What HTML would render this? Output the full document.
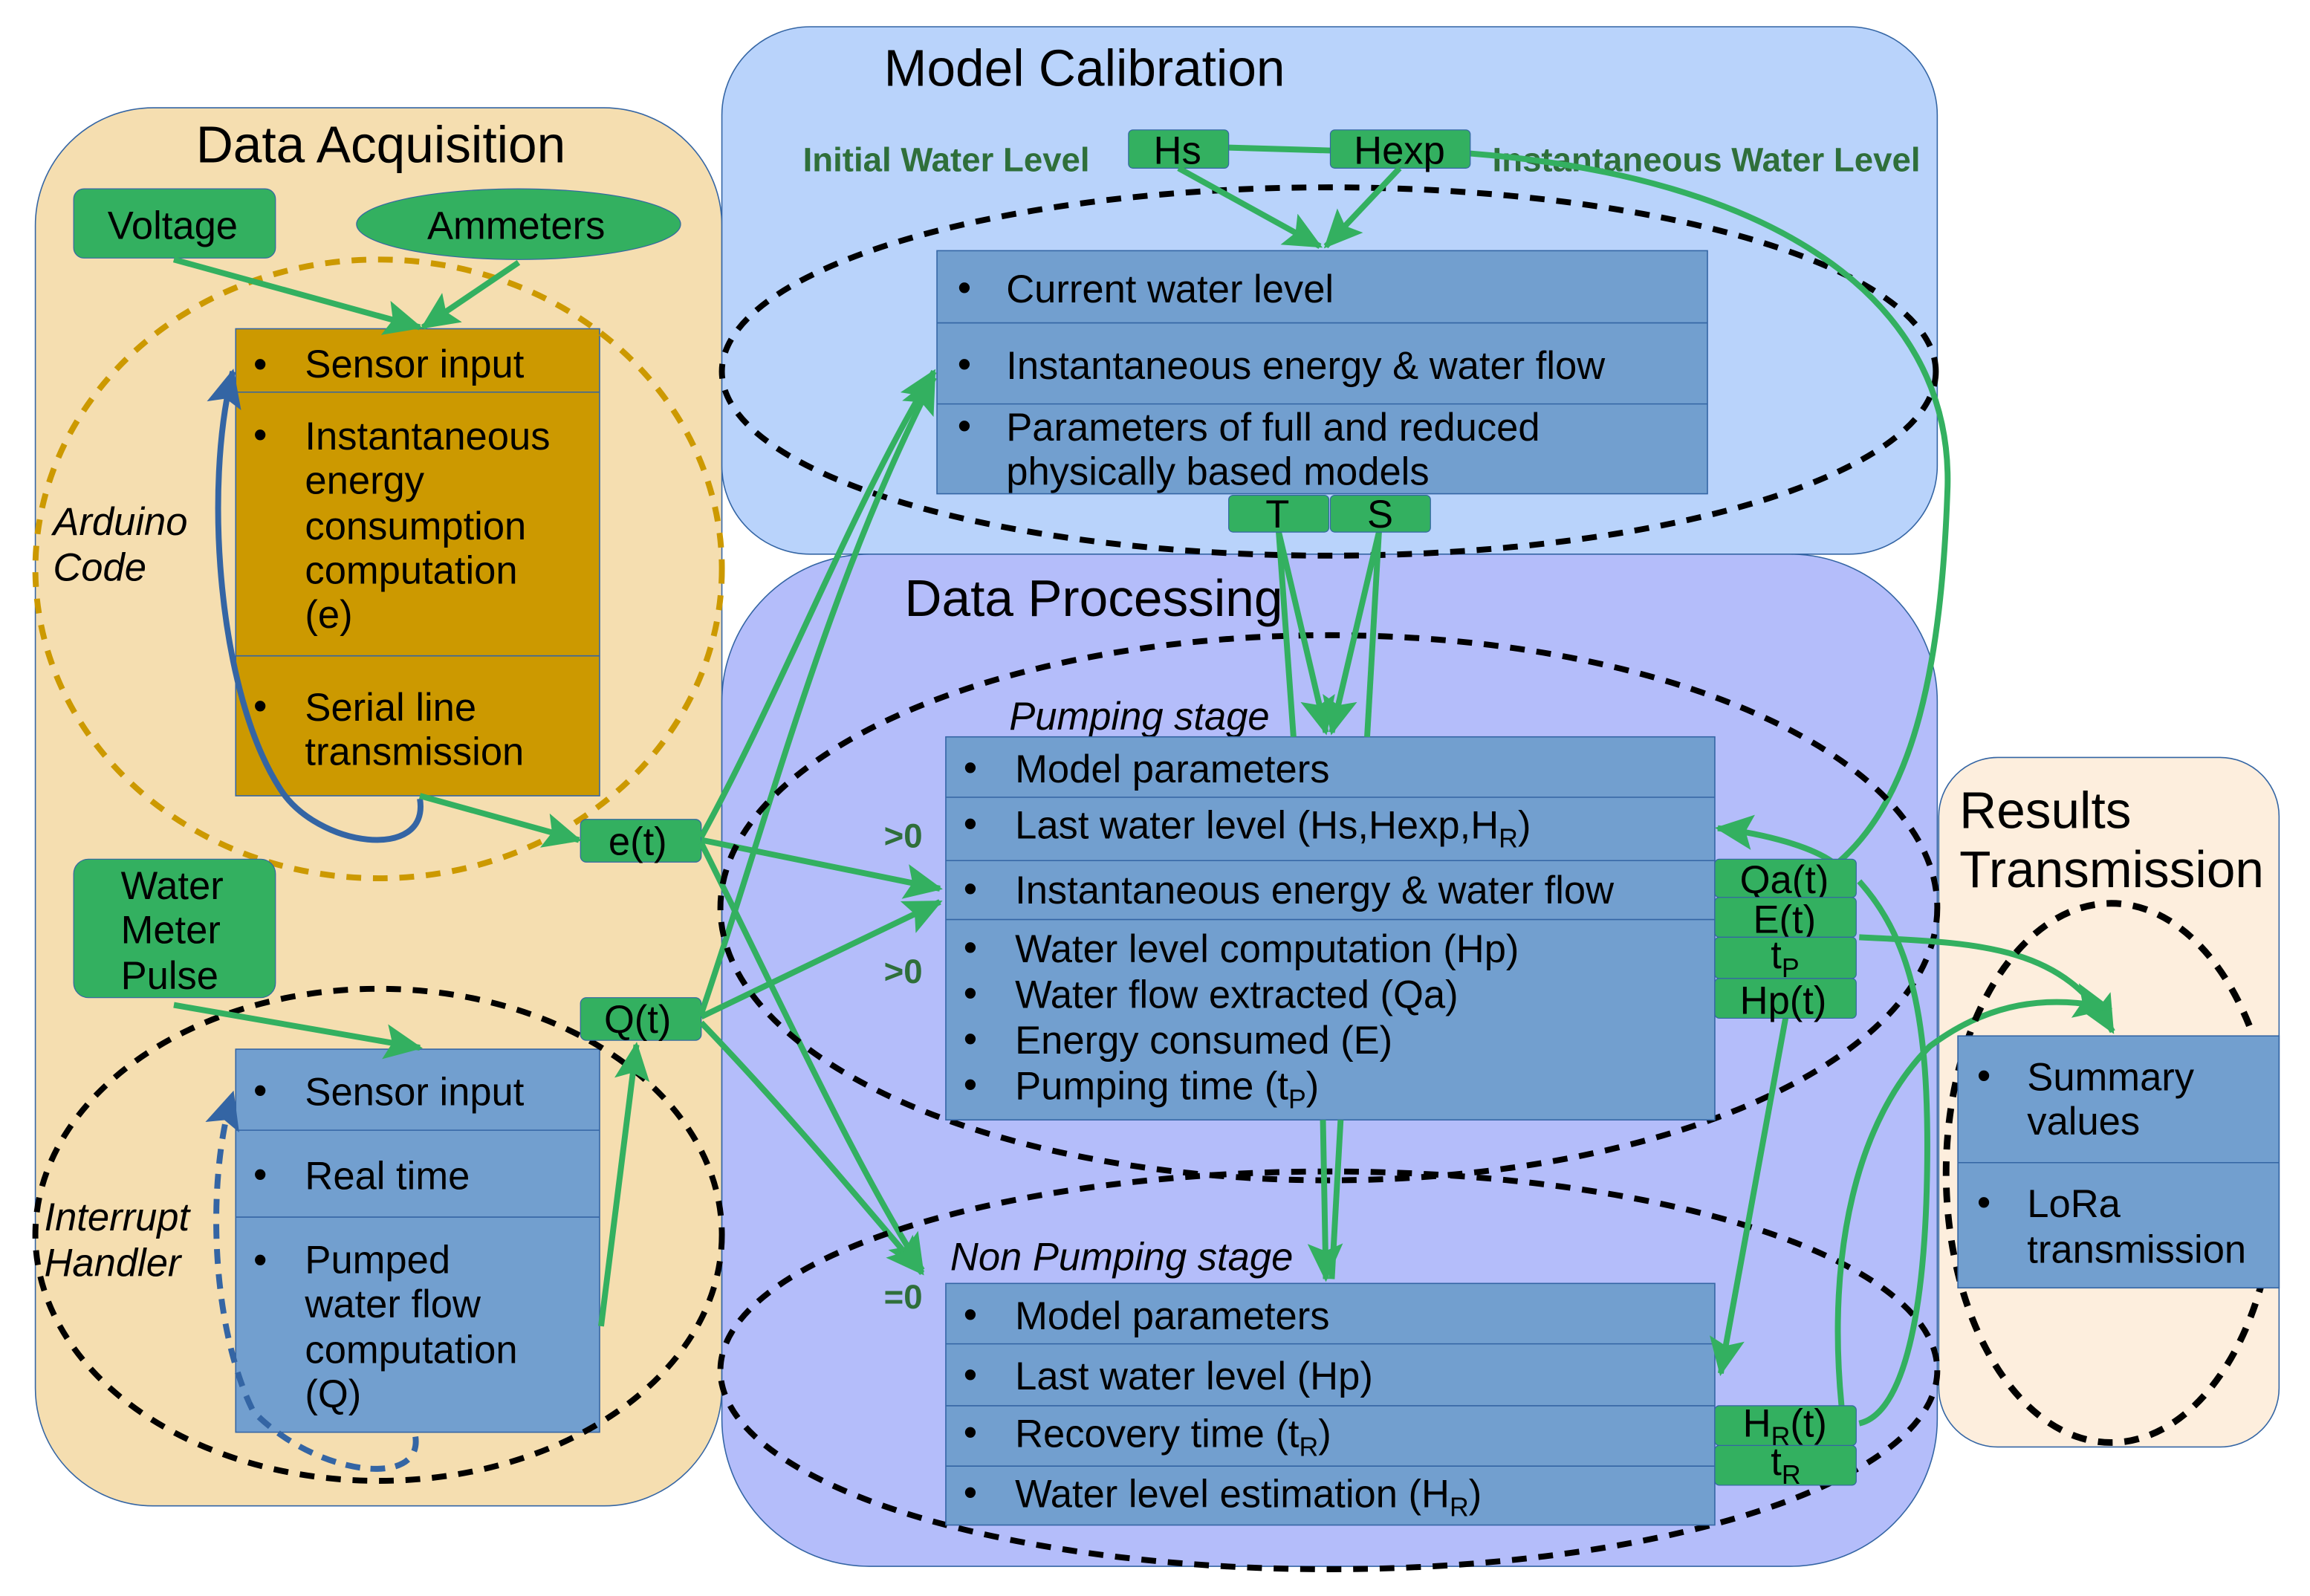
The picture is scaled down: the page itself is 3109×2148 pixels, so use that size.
<!DOCTYPE html>
<html><head><meta charset="utf-8"><style>
html,body{margin:0;padding:0;background:#fff}
svg{display:block}
text{font-family:"Liberation Sans",sans-serif;fill:#000}
.b{font-size:26.5px}
.t{font-size:35px}
.it{font-style:italic;font-size:26.5px}
.g{font-weight:bold;font-size:23px;fill:#2f6f3a}
.ln{stroke:#33b060;stroke-width:4;fill:none}
</style></head><body>
<svg width="3109" height="2148" viewBox="0 0 1568 1083" xmlns="http://www.w3.org/2000/svg">
<defs>
<marker id="ag" markerUnits="userSpaceOnUse" markerWidth="28" markerHeight="24" refX="24" refY="12" orient="auto"><path d="M0,0 L26,12 L0,24 L5,12 Z" fill="#33b060"/></marker>
<marker id="ab" markerUnits="userSpaceOnUse" markerWidth="28" markerHeight="24" refX="24" refY="12" orient="auto"><path d="M0,0 L26,12 L0,24 L5,12 Z" fill="#3465a4"/></marker>
</defs>
<rect x="24" y="73" width="466" height="949" rx="80" fill="#f5deb0" stroke="#3465a4" stroke-width="0.8"/>
<rect x="490" y="18" width="825" height="358" rx="60" fill="#b9d3fb" stroke="#3465a4" stroke-width="0.8"/>
<rect x="490" y="376" width="825" height="687" rx="100" fill="#b4bdfa" stroke="#3465a4" stroke-width="0.8"/>
<rect x="1316" y="514" width="231" height="468" rx="40" fill="#fdeedd" stroke="#3465a4" stroke-width="0.8"/>
<text class="t" x="133" y="110">Data Acquisition</text>
<text class="t" x="600" y="58">Model Calibration</text>
<text class="t" x="614" y="418">Data Processing</text>
<text class="t" x="1330" y="562">Results</text>
<text class="t" x="1330" y="602">Transmission</text>

<rect x="50" y="128" width="137" height="47" rx="7" fill="#33b060" stroke="#3465a4" stroke-width="0.6"/>
<text class="b" x="73" y="162">Voltage</text>
<ellipse cx="352" cy="152" rx="110" ry="24" fill="#33b060" stroke="#3465a4" stroke-width="0.6"/>
<text class="b" x="290" y="162">Ammeters</text>
<rect x="160" y="223" width="247" height="317" fill="#cc9900" stroke="#3465a4" stroke-width="0.8"/>
<line x1="160" y1="266" x2="407" y2="266" stroke="#3465a4" stroke-width="0.8"/>
<line x1="160" y1="445" x2="407" y2="445" stroke="#3465a4" stroke-width="0.8"/>
<text class="b" x="172" y="256">•</text><text class="b" x="207" y="256">Sensor input</text>
<text class="b" x="172" y="304">•</text><text class="b" x="207" y="305">Instantaneous</text>
<text class="b" x="207" y="335">energy</text><text class="b" x="207" y="366">consumption</text>
<text class="b" x="207" y="396">computation</text><text class="b" x="207" y="426">(e)</text>
<text class="b" x="172" y="488">•</text><text class="b" x="207" y="489">Serial line</text>
<text class="b" x="207" y="519">transmission</text>
<ellipse cx="257" cy="386" rx="233" ry="210" fill="none" stroke="#cc9900" stroke-width="4" stroke-dasharray="10,8"/>
<text class="it" x="36" y="363">Arduino</text><text class="it" x="36" y="394">Code</text>
<path d="M285,542 C292,585 215,575 190,535 C148,470 138,330 158,252" fill="none" stroke="#3465a4" stroke-width="4" marker-end="url(#ab)"/>

<rect x="50" y="583" width="137" height="94" rx="10" fill="#33b060" stroke="#3465a4" stroke-width="0.6"/>
<text class="b" x="82" y="610">Water</text><text class="b" x="82" y="640">Meter</text><text class="b" x="82" y="671">Pulse</text>
<rect x="160" y="712" width="247" height="260" fill="#729fcf" stroke="#3465a4" stroke-width="0.8"/>
<line x1="160" y1="767" x2="407" y2="767" stroke="#3465a4" stroke-width="0.8"/>
<line x1="160" y1="826" x2="407" y2="826" stroke="#3465a4" stroke-width="0.8"/>
<text class="b" x="172" y="749">•</text><text class="b" x="207" y="750">Sensor input</text>
<text class="b" x="172" y="806">•</text><text class="b" x="207" y="807">Real time</text>
<text class="b" x="172" y="864">•</text><text class="b" x="207" y="864">Pumped</text>
<text class="b" x="207" y="894">water flow</text><text class="b" x="207" y="925">computation</text><text class="b" x="207" y="955">(Q)</text>
<ellipse cx="257" cy="838" rx="233" ry="167" fill="none" stroke="#000" stroke-width="4" stroke-dasharray="10,8"/>
<text class="it" x="30" y="835">Interrupt</text><text class="it" x="30" y="866">Handler</text>
<path d="M282,975 C287,1010 215,1002 172,958 C143,900 140,800 158,742" fill="none" stroke="#3465a4" stroke-width="4" stroke-dasharray="10,7" marker-end="url(#ab)"/>

<rect x="394" y="556" width="82" height="29" rx="4" fill="#33b060" stroke="#3465a4" stroke-width="0.6"/>
<text class="b" x="413" y="580">e(t)</text>
<rect x="394" y="677" width="82" height="29" rx="4" fill="#33b060" stroke="#3465a4" stroke-width="0.6"/>
<text class="b" x="410" y="701">Q(t)</text>

<line class="ln" x1="118" y1="176" x2="285" y2="222" marker-end="url(#ag)"/>
<line class="ln" x1="352" y1="178" x2="287" y2="222" marker-end="url(#ag)"/>
<line class="ln" x1="118" y1="682" x2="285" y2="711" marker-end="url(#ag)"/>
<line class="ln" x1="285" y1="540" x2="393" y2="570" marker-end="url(#ag)"/>
<line class="ln" x1="408" y1="900" x2="432" y2="709" marker-end="url(#ag)"/>

<text class="g" x="545" y="116">Initial Water Level</text>
<text class="g" x="1013" y="116">Instantaneous Water Level</text>
<ellipse cx="902" cy="252" rx="412" ry="125" fill="none" stroke="#000" stroke-width="4" stroke-dasharray="10,8"/>
<rect x="636" y="170" width="523" height="165" fill="#729fcf" stroke="#3465a4" stroke-width="0.8"/>
<line x1="636" y1="219" x2="1159" y2="219" stroke="#3465a4" stroke-width="0.8"/>
<line x1="636" y1="274" x2="1159" y2="274" stroke="#3465a4" stroke-width="0.8"/>
<text class="b" x="650" y="204">•</text><text class="b" x="683" y="205">Current water level</text>
<text class="b" x="650" y="256">•</text><text class="b" x="683" y="257">Instantaneous energy &amp; water flow</text>
<text class="b" x="650" y="298">•</text><text class="b" x="683" y="299">Parameters of full and reduced</text>
<text class="b" x="683" y="329">physically based models</text>
<path class="ln" d="M834,100 L903,102"/>
<path class="ln" d="M998,104 C1200,120 1325,200 1322,330 C1318,450 1300,540 1248,585"/>
<rect x="766" y="88" width="68" height="26" rx="3" fill="#33b060" stroke="#3465a4" stroke-width="0.6"/>
<text class="b" x="783" y="111">Hs</text>
<rect x="903" y="88" width="95" height="26" rx="3" fill="#33b060" stroke="#3465a4" stroke-width="0.6"/>
<text class="b" x="919" y="111">Hexp</text>
<line class="ln" x1="800" y1="114" x2="896" y2="167" marker-end="url(#ag)"/>
<line class="ln" x1="950" y1="114" x2="900" y2="167" marker-end="url(#ag)"/>

<line class="ln" x1="476" y1="570" x2="638" y2="603" marker-end="url(#ag)"/>
<line class="ln" x1="476" y1="690" x2="638" y2="612" marker-end="url(#ag)"/>
<path class="ln" d="M476,568 C530,470 580,340 634,252" marker-end="url(#ag)"/>
<path class="ln" d="M476,688 C520,560 560,400 634,256" marker-end="url(#ag)"/>
<path class="ln" d="M476,572 C530,680 580,790 626,862" marker-end="url(#ag)"/>
<path class="ln" d="M476,694 C530,750 580,810 626,864" marker-end="url(#ag)"/>

<text class="it" x="685" y="495">Pumping stage</text>
<ellipse cx="902" cy="616" rx="413" ry="185" fill="none" stroke="#000" stroke-width="4" stroke-dasharray="10,8"/>
<rect x="642" y="500" width="522" height="260" fill="#729fcf" stroke="#3465a4" stroke-width="0.8"/>
<line x1="642" y1="541" x2="1164" y2="541" stroke="#3465a4" stroke-width="0.8"/>
<line x1="642" y1="584" x2="1164" y2="584" stroke="#3465a4" stroke-width="0.8"/>
<line x1="642" y1="624" x2="1164" y2="624" stroke="#3465a4" stroke-width="0.8"/>
<text class="b" x="654" y="530">•</text><text class="b" x="689" y="531">Model parameters</text>
<text class="b" x="654" y="568">•</text><text class="b" x="689" y="569">Last water level (Hs,Hexp,H<tspan font-size="18" dy="6">R</tspan><tspan dy="-6">)</tspan></text>
<text class="b" x="654" y="612">•</text><text class="b" x="689" y="613">Instantaneous energy &amp; water flow</text>
<text class="b" x="654" y="652">•</text><text class="b" x="689" y="653">Water level computation (Hp)</text>
<text class="b" x="654" y="683">•</text><text class="b" x="689" y="684">Water flow extracted (Qa)</text>
<text class="b" x="654" y="714">•</text><text class="b" x="689" y="715">Energy consumed (E)</text>
<text class="b" x="654" y="745">•</text><text class="b" x="689" y="746">Pumping time (t<tspan font-size="18" dy="6">P</tspan><tspan dy="-6">)</tspan></text>
<text class="g" x="600" y="575">&gt;0</text>
<text class="g" x="600" y="667">&gt;0</text>
<text class="g" x="600" y="888">=0</text>

<line class="ln" x1="868" y1="361" x2="878" y2="500"/>
<line class="ln" x1="936" y1="361" x2="928" y2="500"/>
<line class="ln" x1="868" y1="361" x2="900" y2="497" marker-end="url(#ag)"/>
<line class="ln" x1="936" y1="361" x2="904" y2="497" marker-end="url(#ag)"/>
<rect x="834" y="336" width="68" height="25" rx="3" fill="#33b060" stroke="#3465a4" stroke-width="0.6"/>
<text class="b" x="859" y="358">T</text>
<rect x="903" y="336" width="68" height="25" rx="3" fill="#33b060" stroke="#3465a4" stroke-width="0.6"/>
<text class="b" x="928" y="358">S</text>

<text class="it" x="645" y="862">Non Pumping stage</text>
<ellipse cx="902" cy="930" rx="413" ry="135" fill="none" stroke="#000" stroke-width="4" stroke-dasharray="10,8"/>
<rect x="642" y="871" width="522" height="164" fill="#729fcf" stroke="#3465a4" stroke-width="0.8"/>
<line x1="642" y1="912" x2="1164" y2="912" stroke="#3465a4" stroke-width="0.8"/>
<line x1="642" y1="954" x2="1164" y2="954" stroke="#3465a4" stroke-width="0.8"/>
<line x1="642" y1="995" x2="1164" y2="995" stroke="#3465a4" stroke-width="0.8"/>
<text class="b" x="654" y="901">•</text><text class="b" x="689" y="902">Model parameters</text>
<text class="b" x="654" y="942">•</text><text class="b" x="689" y="943">Last water level (Hp)</text>
<text class="b" x="654" y="981">•</text><text class="b" x="689" y="982">Recovery time (t<tspan font-size="18" dy="6">R</tspan><tspan dy="-6">)</tspan></text>
<text class="b" x="654" y="1022">•</text><text class="b" x="689" y="1023">Water level estimation (H<tspan font-size="18" dy="6">R</tspan><tspan dy="-6">)</tspan></text>
<line class="ln" x1="898" y1="760" x2="900" y2="868" marker-end="url(#ag)"/>
<line class="ln" x1="910" y1="760" x2="904" y2="868"/>

<path class="ln" d="M1244,585 C1230,575 1200,566 1166,562" marker-end="url(#ag)"/>
<path class="ln" d="M1262,598 C1300,640 1310,700 1308,800 C1306,900 1290,960 1262,966"/>
<line class="ln" x1="1212" y1="691" x2="1168" y2="932" marker-end="url(#ag)"/>
<path class="ln" d="M1262,636 C1340,640 1400,640 1434,700" marker-end="url(#ag)"/>
<path class="ln" d="M1250,954 C1240,850 1260,760 1310,710 C1350,680 1390,675 1432,684" marker-end="url(#ag)"/>

<rect x="1164" y="583" width="96" height="26" rx="3" fill="#33b060" stroke="#3465a4" stroke-width="0.6"/>
<text class="b" x="1181" y="606">Qa(t)</text>
<rect x="1164" y="609" width="96" height="27" rx="3" fill="#33b060" stroke="#3465a4" stroke-width="0.6"/>
<text class="b" x="1190" y="633">E(t)</text>
<rect x="1164" y="636" width="96" height="28" rx="3" fill="#33b060" stroke="#3465a4" stroke-width="0.6"/>
<text class="b" x="1202" y="657">t<tspan font-size="18" dy="6">P</tspan></text>
<rect x="1164" y="664" width="96" height="27" rx="3" fill="#33b060" stroke="#3465a4" stroke-width="0.6"/>
<text class="b" x="1181" y="688">Hp(t)</text>
<rect x="1164" y="954" width="96" height="27" rx="3" fill="#33b060" stroke="#3465a4" stroke-width="0.6"/>
<text class="b" x="1183" y="975">H<tspan font-size="18" dy="6">R</tspan><tspan dy="-6">(t)</tspan></text>
<rect x="1164" y="981" width="96" height="27" rx="3" fill="#33b060" stroke="#3465a4" stroke-width="0.6"/>
<text class="b" x="1202" y="1001">t<tspan font-size="18" dy="6">R</tspan></text>

<ellipse cx="1433" cy="796" rx="112" ry="183" fill="none" stroke="#000" stroke-width="4.5" stroke-dasharray="10,8"/>
<rect x="1329" y="703" width="218" height="171" fill="#729fcf" stroke="#3465a4" stroke-width="0.8"/>
<line x1="1329" y1="789" x2="1547" y2="789" stroke="#3465a4" stroke-width="0.8"/>
<text class="b" x="1342" y="739">•</text><text class="b" x="1376" y="740">Summary</text>
<text class="b" x="1376" y="770">values</text>
<text class="b" x="1342" y="825">•</text><text class="b" x="1376" y="826">LoRa</text>
<text class="b" x="1376" y="857">transmission</text>
</svg>
</body></html>
